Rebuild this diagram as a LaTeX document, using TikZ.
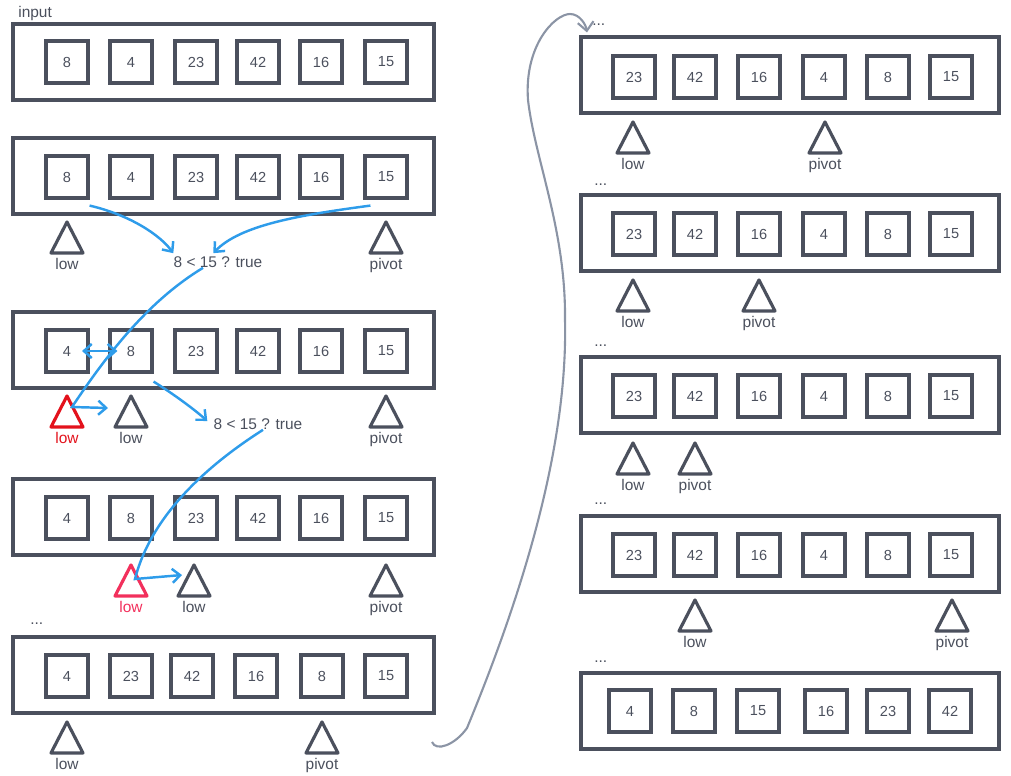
\documentclass[tikz,border=0pt]{standalone}
\usepackage{fontspec}
\setmainfont{Liberation Sans}
\usetikzlibrary{arrows.meta,positioning}

\definecolor{ink}{HTML}{4B505D}
\definecolor{flow}{HTML}{2E9CEA}
\definecolor{hot}{HTML}{E3121C}
\definecolor{warm}{HTML}{F2305C}
\definecolor{arc}{HTML}{8B94A5}

\tikzset{
  frame/.style={draw=ink, line width=1.8pt, minimum height=1.52cm, inner sep=0pt},
  lframe/.style={frame, minimum width=8.42cm},
  rframe/.style={frame, minimum width=8.36cm},
  cell/.style={draw=ink, line width=1.8pt, minimum size=0.84cm, inner sep=0pt,
    text=ink, font=\fontsize{8.3}{10}\selectfont},
  ptr/.style={line width=1.8pt, line join=round},
  tag/.style={anchor=base, inner sep=0pt, font=\fontsize{8.8}{10}\selectfont},
  note/.style={inner sep=0pt, text=ink, font=\fontsize{8.8}{10}\selectfont},
  barb/.tip={Straight Barb[length=4.5pt,width=8pt,line width=1.4pt]},
  move/.style={draw=flow, line width=1.4pt, -barb},
  backarc/.style={draw=arc, line width=1.2pt, -{Straight Barb[length=5pt,width=9pt]}},
}

% cells of one row: name, y, list of x/value
\newcommand\slots[3]{\foreach \x/\v [count=\i] in {#3} \node[cell] (#1-\i) at (\x,#2) {\v};}
% pointer triangle: name, x, apex y, label, colour
\newcommand\pointer[5]{%
  \coordinate (#1) at (#2,#3);
  \draw[ptr,draw=#5] (#1) -- ++(16,31) -- ++(-32,0) -- cycle;
  \node[tag,text=#5] (#1-tag) at (#2,#3+47) {#4};}

\begin{document}
\begin{tikzpicture}[x=0.02cm, y=-0.02cm]
\useasboundingbox (0,0) rectangle (1011,775);
\def\lx{223.5}   % left column centre x
\def\rx{790}     % right column centre x
%% Left column
\node[note, anchor=base west] (inp) at (18,17) {input};
\node[lframe] (L0) at (\lx,62) {};
\slots{L0}{62}{67/8,131/4,196/23,258/42,321/16,386/15}
\node[lframe] (L1) at (\lx,176) {};
\slots{L1}{177}{67/8,131/4,196/23,258/42,321/16,386/15}
\pointer{L1-low}{67}{222}{low}{ink}
\pointer{L1-piv}{386}{222}{pivot}{ink}
\node[note] (cmp1) at (218,262) {8 < 15 ? true};
\node[lframe] (L2) at (\lx,350) {};
\slots{L2}{351}{67/4,131/8,196/23,258/42,321/16,386/15}
\pointer{L2-old}{67}{396}{low}{hot}
\pointer{L2-low}{131}{396}{low}{ink}
\pointer{L2-piv}{386}{396}{pivot}{ink}
\node[note] (cmp2) at (258,424) {8 < 15 ? true};
\node[lframe] (L3) at (\lx,517) {};
\slots{L3}{518}{67/4,131/8,196/23,258/42,321/16,386/15}
\pointer{L3-old}{131}{565}{low}{warm}
\pointer{L3-low}{194}{565}{low}{ink}
\pointer{L3-piv}{386}{565}{pivot}{ink}
\node[note, anchor=base west] (dotsL4) at (30,624) {...};
\node[lframe] (L4) at (\lx,675) {};
\slots{L4}{676}{67/4,131/23,192/42,256/16,322/8,386/15}
\pointer{L4-low}{67}{722}{low}{ink}
\pointer{L4-piv}{322}{722}{pivot}{ink}
%% Right column
\node[note, anchor=base west] (dotsR0) at (592,25) {...};
\node[rframe] (R0) at (\rx,75) {};
\slots{R0}{77}{634/23,695/42,759/16,824/4,888/8,951/15}
\pointer{R0-low}{633}{122}{low}{ink}
\pointer{R0-piv}{825}{122}{pivot}{ink}
\node[note, anchor=base west] (dotsR1) at (594,185) {...};
\node[rframe] (R1) at (\rx,233) {};
\slots{R1}{234}{634/23,695/42,759/16,824/4,888/8,951/15}
\pointer{R1-low}{633}{280}{low}{ink}
\pointer{R1-piv}{759}{280}{pivot}{ink}
\node[note, anchor=base west] (dotsR2) at (594,346) {...};
\node[rframe] (R2) at (\rx,395) {};
\slots{R2}{396}{634/23,695/42,759/16,824/4,888/8,951/15}
\pointer{R2-low}{633}{443}{low}{ink}
\pointer{R2-piv}{695}{443}{pivot}{ink}
\node[note, anchor=base west] (dotsR3) at (594,504) {...};
\node[rframe] (R3) at (\rx,554) {};
\slots{R3}{555}{634/23,695/42,759/16,824/4,888/8,951/15}
\pointer{R3-low}{695}{600}{low}{ink}
\pointer{R3-piv}{952}{600}{pivot}{ink}
\node[note, anchor=base west] (dotsR4) at (594,662) {...};
\node[rframe] (R4) at (\rx,711) {};
\slots{R4}{711}{630/4,694/8,758/15,826/16,888/23,950/42}
%% Blue moves
\draw[move] ([yshift=-0.12cm]L1-1.south east)
  .. controls (130,215) and (160,235) .. ([yshift=0.06cm]cmp1.north west);
\draw[move] ([xshift=0.14cm,yshift=-0.12cm]L1-6.south west)
  .. controls (300,215) and (240,225) .. ([xshift=0.8cm,yshift=0.06cm]cmp1.north west);
\draw[move] ([xshift=-0.3cm]cmp1.south)
  .. controls (150,300) and (110,350) .. ([xshift=0.1cm,yshift=-0.22cm]L2-old)
  -- ([xshift=-0.46cm,yshift=-0.24cm]L2-low);
\draw[move, barb-barb] ([xshift=0.3cm]L2-1.center) -- ([xshift=0.18cm]L2-2.west);
\draw[move] ([yshift=-0.16cm]L2-2.south east)
  .. controls (175,395) and (195,410) .. ([xshift=-0.12cm,yshift=0.06cm]cmp2.west);
\draw[move] ([xshift=0.1cm]cmp2.south)
  .. controls (200,470) and (150,520) .. ([xshift=0.08cm,yshift=-0.28cm]L3-old)
  -- ([xshift=-0.24cm,yshift=-0.2cm]L3-low);
%% Jump to the right column
\coordinate (back) at (432,742);
\draw[backarc] (back) .. controls (436,752) and (455,745) .. (467,728)
  .. controls (520,600) and (568,450) .. (565,320)
  .. controls (566,230) and (535,160) .. (528,100)
  .. controls (524,45) and (555,14) .. (570,14)
  .. controls (580,14) and (586,25) .. ([shift={(0.15cm,0.06cm)}]R0.north west);
\end{tikzpicture}
\end{document}
